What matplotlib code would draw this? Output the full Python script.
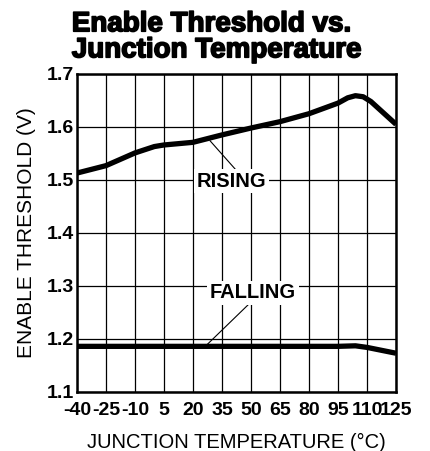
import matplotlib
matplotlib.use('Agg')
import matplotlib.pyplot as plt
import matplotlib.patheffects as pe

plt.rcParams['font.family'] = ['Liberation Sans', 'DejaVu Sans']

# temperature (C) vs enable threshold (V)
t_rise = [-40, -25, -10, 0, 5, 20, 35, 50, 65, 80, 95, 100, 104, 108, 112, 125]
v_rise = [1.513, 1.527, 1.551, 1.563, 1.566, 1.571, 1.585, 1.598, 1.610, 1.625, 1.645, 1.655, 1.659, 1.657, 1.648, 1.605]

t_fall = [-40, -25, -10, 5, 20, 35, 50, 65, 80, 95, 104, 110, 125]
v_fall = [1.186, 1.186, 1.186, 1.186, 1.186, 1.186, 1.186, 1.186, 1.186, 1.186, 1.187, 1.184, 1.173]

xticks = [-40, -25, -10, 5, 20, 35, 50, 65, 80, 95, 110, 125]
yticks = [1.1, 1.2, 1.3, 1.4, 1.5, 1.6, 1.7]

fig = plt.figure(figsize=(4.30, 4.51), dpi=100)
ax = fig.add_axes([0.179, 0.131, 0.742, 0.705])

ax.plot(t_rise, v_rise, color='black', lw=3.8, solid_capstyle='butt', solid_joinstyle='round', zorder=3)
ax.plot(t_fall, v_fall, color='black', lw=3.8, solid_capstyle='butt', solid_joinstyle='round', zorder=3)

ax.set_xlim(-40, 125)
ax.set_ylim(1.1, 1.7)
ax.set_xticks(xticks)
ax.set_yticks(yticks)
ax.set_xticklabels([str(t) for t in xticks], fontsize=14, fontweight='bold')
ax.set_yticklabels([f'{v:.1f}' for v in yticks], fontsize=14, fontweight='bold')
ax.tick_params(axis='x', length=0, pad=7)
ax.tick_params(axis='y', length=0, pad=2)
ax.grid(True, color='black', lw=0.9)
for s in ax.spines.values():
    s.set_linewidth(1.8)

# leader lines and labels
ax.plot([28.8, 41.7], [1.574, 1.521], color='black', lw=0.8, zorder=2)
ax.text(40, 1.498, 'RISING', ha='center', va='center', fontsize=14.5, fontweight='bold',
        bbox=dict(facecolor='white', edgecolor='none', pad=2), zorder=4)
ax.plot([27.2, 48.4], [1.189, 1.264], color='black', lw=0.8, zorder=2)
ax.text(51, 1.287, 'FALLING', ha='center', va='center', fontsize=14.5, fontweight='bold',
        bbox=dict(facecolor='white', edgecolor='none', pad=2), zorder=4)

ax.set_xlabel('JUNCTION TEMPERATURE (°C)', fontsize=14.5, labelpad=10)
ax.set_ylabel('ENABLE THRESHOLD (V)', fontsize=15, labelpad=8)
fig.text(0.167, 0.975, 'Enable Threshold vs.\nJunction Temperature', ha='left', va='top',
         fontsize=20, fontweight='bold', linespacing=1.0,
         path_effects=[pe.withStroke(linewidth=1.2, foreground='black')])

fig.savefig('out.png', dpi=100)
